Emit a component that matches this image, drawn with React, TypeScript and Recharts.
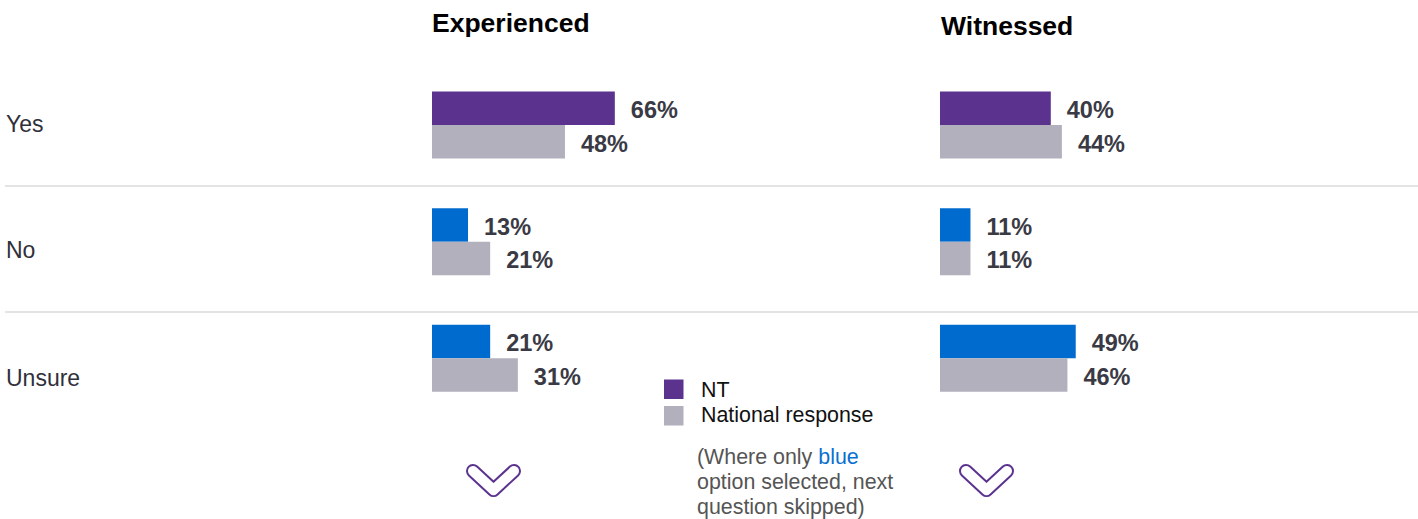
import React from 'react';
import { BarChart, Bar, XAxis, YAxis, Cell, LabelList } from 'recharts';

const categories = ['Yes', 'No', 'Unsure'];
const experiencedNT = [66, 13, 21];
const experiencedNational = [48, 21, 31];
const witnessedNT = [40, 11, 49];
const witnessedNational = [44, 11, 46];
const panelTitles = ['Experienced', 'Witnessed'];
const legendLabels = ['NT', 'National response'];
const noteLines = ['(Where only ', 'blue', 'option selected, next', 'question skipped)'];

const PURPLE = '#5b338f';
const BLUE = '#006bcf';
const GREY = '#b1b0bc';
const LABEL = '#3a3a45';
const FONT = '"Liberation Sans", Arial, Helvetica, sans-serif';

const ntColorFor = (cat: string) => (cat === 'Yes' ? PURPLE : BLUE);

const buildData = (nt: number[], nat: number[]) =>
  categories.map((c, i) => ({ category: c, nt: nt[i], national: nat[i] }));

const fmt = (v: any) => `${v}%`;

const labelStyle = { fill: LABEL, fontWeight: 700, fontSize: 23.5, fontFamily: FONT };

function Panel({ nt, nat, left }: { nt: number[]; nat: number[]; left: number }) {
  const data = buildData(nt, nat);
  return (
    <div style={{ position: 'absolute', left, top: 0 }}>
      <BarChart
        layout="vertical"
        width={300}
        height={519}
        data={data}
        margin={{ top: 66.5, right: 23, bottom: 102.5, left: 0 }}
        barGap={0}
        barSize={33.5}
      >
        <XAxis type="number" domain={[0, 100]} hide />
        <YAxis type="category" dataKey="category" hide />
        <Bar dataKey="nt" isAnimationActive={false}>
          {data.map((d) => (
            <Cell key={d.category} fill={ntColorFor(d.category)} />
          ))}
          <LabelList dataKey="nt" position="right" offset={16} dy={1.5} formatter={fmt} style={labelStyle} />
        </Bar>
        <Bar dataKey="national" fill={GREY} isAnimationActive={false}>
          <LabelList dataKey="national" position="right" offset={16} dy={1.5} formatter={fmt} style={labelStyle} />
        </Bar>
      </BarChart>
    </div>
  );
}

function Chevron({ x }: { x: number }) {
  const pts = `${x},471 ${x + 20.5},490 ${x + 41},471`;
  return (
    <g>
      <polyline points={pts} fill="none" stroke={PURPLE} strokeWidth={14} strokeLinecap="round" strokeLinejoin="round" />
      <polyline points={pts} fill="none" stroke="#fff" strokeWidth={10} strokeLinecap="round" strokeLinejoin="round" />
    </g>
  );
}

export default function App() {
  const rowLabelY = [132, 258, 386];
  return (
    <div style={{ position: 'absolute', left: 0, top: 0, width: 1418, height: 519, background: '#fff', fontFamily: FONT }}>
      <svg width={1418} height={519} style={{ position: 'absolute', left: 0, top: 0 }}>
        <text x={432} y={32} fontSize={26.5} fontWeight={700} fill="#000" fontFamily={FONT}>{panelTitles[0]}</text>
        <text x={941} y={35} fontSize={26.5} fontWeight={700} fill="#000" fontFamily={FONT}>{panelTitles[1]}</text>
        {categories.map((c, i) => (
          <text key={c} x={6} y={rowLabelY[i]} fontSize={23} fill="#30303b" fontFamily={FONT}>{c}</text>
        ))}
        <rect x={5} y={185} width={1413} height={2} fill="#e4e4e4" />
        <rect x={5} y={311} width={1413} height={2} fill="#e4e4e4" />
        <rect x={664} y={379.5} width={19.5} height={19.5} fill={PURPLE} />
        <rect x={664} y={406} width={19.5} height={19.5} fill={GREY} />
        <text x={701} y={397} fontSize={21.4} fill="#111" fontFamily={FONT}>{legendLabels[0]}</text>
        <text x={701} y={422} fontSize={21.4} fill="#111" fontFamily={FONT}>{legendLabels[1]}</text>
        <text x={697} y={464} fontSize={21.4} fill="#555" fontFamily={FONT}>
          {noteLines[0]}<tspan fill="#0a6fd0">{noteLines[1]}</tspan>
        </text>
        <text x={697} y={489} fontSize={21.4} fill="#555" fontFamily={FONT}>{noteLines[2]}</text>
        <text x={697} y={514} fontSize={21.4} fill="#555" fontFamily={FONT}>{noteLines[3]}</text>
        <Chevron x={473} />
        <Chevron x={966} />
      </svg>
      <Panel nt={experiencedNT} nat={experiencedNational} left={432} />
      <Panel nt={witnessedNT} nat={witnessedNational} left={940} />
    </div>
  );
}
